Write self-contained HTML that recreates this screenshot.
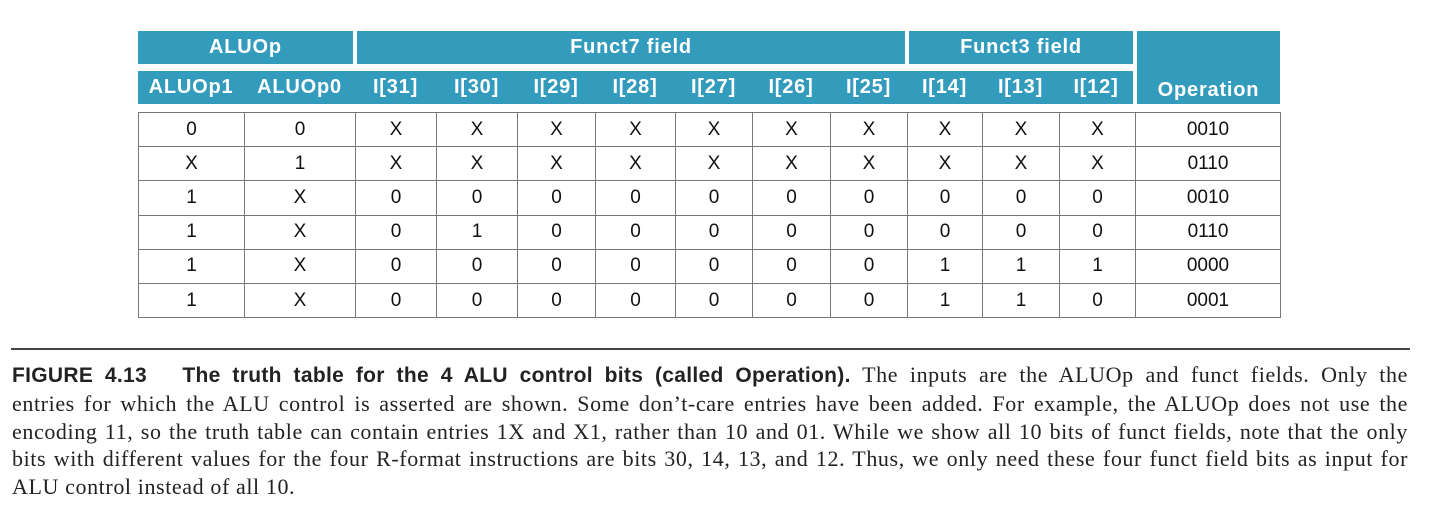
<!DOCTYPE html>
<html><head><meta charset="utf-8"><style>
body{margin:0;width:1435px;height:526px;background:#fff;position:relative;overflow:hidden}
.h{position:absolute;background:#339bbb;color:#fff;font:bold 20px "Liberation Sans",sans-serif;display:flex;align-items:center;justify-content:center;letter-spacing:0.8px}
table{position:absolute;left:138px;top:112px;border-collapse:collapse;font:19px "Liberation Sans",sans-serif;color:#111}
td{border:1.5px solid #777;height:33.2px;padding:0;text-align:center}
.cap{position:absolute;left:12px;top:361px;width:1396px;font:22px/27.8px "Liberation Serif",serif;color:#222;letter-spacing:0.6px}
.cap div{text-align:justify;text-align-last:justify;white-space:nowrap}
.cap div.l{text-align-last:left}
.cap b{font-family:"Liberation Sans",sans-serif;font-size:21px;letter-spacing:0.3px}
</style></head><body>
<div class="h" style="left:138px;top:31px;width:215px;height:33px">ALUOp</div>
<div class="h" style="left:357px;top:31px;width:548px;height:33px">Funct7 field</div>
<div class="h" style="left:909px;top:31px;width:224px;height:33px">Funct3 field</div>
<div class="h" style="left:1137px;top:31px;width:143px;height:73px;align-items:flex-end"><span style="margin-bottom:2px">Operation</span></div>
<div class="h" style="left:138px;top:71px;width:106px;height:33px">ALUOp1</div>
<div class="h" style="left:244px;top:71px;width:111px;height:33px">ALUOp0</div>
<div class="h" style="left:355px;top:71px;width:81px;height:33px">I[31]</div>
<div class="h" style="left:436px;top:71px;width:81px;height:33px">I[30]</div>
<div class="h" style="left:517px;top:71px;width:78px;height:33px">I[29]</div>
<div class="h" style="left:595px;top:71px;width:80px;height:33px">I[28]</div>
<div class="h" style="left:675px;top:71px;width:77px;height:33px">I[27]</div>
<div class="h" style="left:752px;top:71px;width:78px;height:33px">I[26]</div>
<div class="h" style="left:830px;top:71px;width:77px;height:33px">I[25]</div>
<div class="h" style="left:907px;top:71px;width:75px;height:33px">I[14]</div>
<div class="h" style="left:982px;top:71px;width:77px;height:33px">I[13]</div>
<div class="h" style="left:1059px;top:71px;width:74px;height:33px">I[12]</div>
<table>
<colgroup><col style="width:106px"><col style="width:111px"><col style="width:81px"><col style="width:81px"><col style="width:78px"><col style="width:80px"><col style="width:77px"><col style="width:78px"><col style="width:77px"><col style="width:75px"><col style="width:77px"><col style="width:76px"><col style="width:145px"></colgroup>
<tr><td>0</td><td>0</td><td>X</td><td>X</td><td>X</td><td>X</td><td>X</td><td>X</td><td>X</td><td>X</td><td>X</td><td>X</td><td>0010</td></tr>
<tr><td>X</td><td>1</td><td>X</td><td>X</td><td>X</td><td>X</td><td>X</td><td>X</td><td>X</td><td>X</td><td>X</td><td>X</td><td>0110</td></tr>
<tr><td>1</td><td>X</td><td>0</td><td>0</td><td>0</td><td>0</td><td>0</td><td>0</td><td>0</td><td>0</td><td>0</td><td>0</td><td>0010</td></tr>
<tr><td>1</td><td>X</td><td>0</td><td>1</td><td>0</td><td>0</td><td>0</td><td>0</td><td>0</td><td>0</td><td>0</td><td>0</td><td>0110</td></tr>
<tr><td>1</td><td>X</td><td>0</td><td>0</td><td>0</td><td>0</td><td>0</td><td>0</td><td>0</td><td>1</td><td>1</td><td>1</td><td>0000</td></tr>
<tr><td>1</td><td>X</td><td>0</td><td>0</td><td>0</td><td>0</td><td>0</td><td>0</td><td>0</td><td>1</td><td>1</td><td>0</td><td>0001</td></tr>
</table>
<div style="position:absolute;left:11px;top:348px;width:1399px;height:2px;background:#444"></div>
<div class="cap">
<div><b>FIGURE 4.13&nbsp;&nbsp;&nbsp;The truth table for the 4 ALU control bits (called Operation).</b> The inputs are the ALUOp and funct fields. Only the</div>
<div>entries for which the ALU control is asserted are shown. Some don’t-care entries have been added. For example, the ALUOp does not use the</div>
<div>encoding 11, so the truth table can contain entries 1X and X1, rather than 10 and 01. While we show all 10 bits of funct fields, note that the only</div>
<div>bits with different values for the four R-format instructions are bits 30, 14, 13, and 12. Thus, we only need these four funct field bits as input for</div>
<div class="l">ALU control instead of all 10.</div>
</div>
</body></html>
